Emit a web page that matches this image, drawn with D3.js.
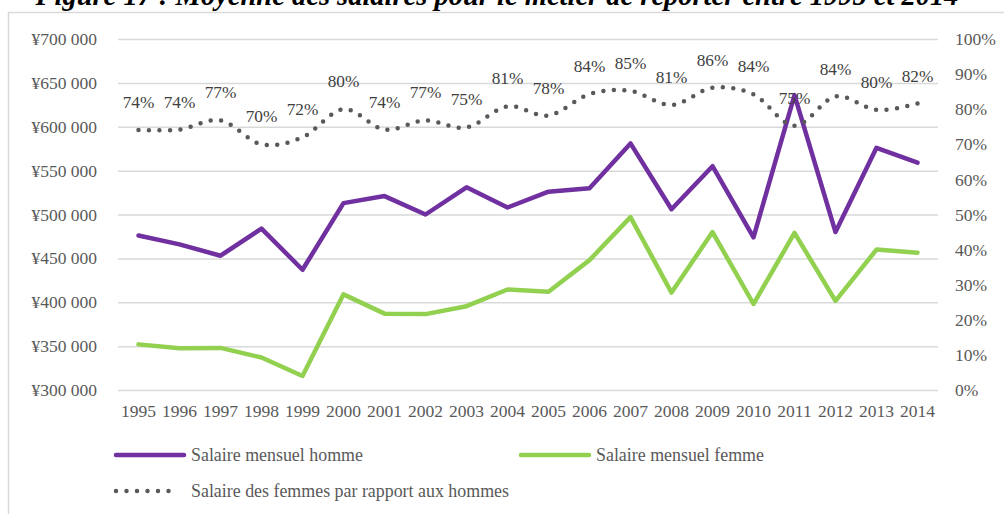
<!DOCTYPE html>
<html lang="fr">
<head>
    <meta charset="UTF-8">
    <title>Moyenne des salaires - reporter</title>
    <style>
        body {
            margin: 0;
            background: #fff;
        }
        svg {
            display: block;
        }
        svg text {
            font-family: "Liberation Serif", "DejaVu Serif", serif;
        }
        .axis text {
            fill: #595959;
            font-size: 17.5px;
        }
        .axis .domain {
            display: none;
        }
        .grid line {
            stroke: #d9d9d9;
            stroke-width: 1.5;
        }
        .grid .domain {
            display: none;
        }
        .label {
            fill: #404040;
            font-size: 17.3px;
            text-anchor: middle;
        }
        .legend text {
            fill: #595959;
            font-size: 17.9px;
        }
    </style>
    <script src="https://d3js.org/d3.v7.min.js"></script>
</head>
<body>
    <svg id="chart" width="1004" height="514"></svg>
    <script>
        const years = ["1995", "1996", "1997", "1998", "1999", "2000", "2001", "2002", "2003", "2004",
                       "2005", "2006", "2007", "2008", "2009", "2010", "2011", "2012", "2013", "2014"];
        const maleSalary = [476000, 466000, 453000, 484000, 437000, 513000, 521000, 500000, 531000, 508000,
                            526000, 530000, 581000, 506000, 555000, 474000, 636000, 480000, 576000, 559000];
        const femaleSalary = [352000, 347500, 348000, 337000, 316000, 409000, 387000, 386500, 395500, 414500,
                              412000, 448000, 497000, 411000, 480000, 398000, 479000, 401500, 460000, 456500];
        const ratio = [0.741, 0.742, 0.768, 0.70, 0.72, 0.80, 0.742, 0.768, 0.748, 0.808,
                       0.782, 0.843, 0.852, 0.812, 0.861, 0.842, 0.753, 0.836, 0.798, 0.816];
        const seriesNames = ["Salaire mensuel homme", "Salaire mensuel femme", "Salaire des femmes par rapport aux hommes"];
        const title = "Figure 17 : Moyenne des salaires pour le métier de reporter entre 1995 et 2014";

        const colors = { male: "#7030a0", female: "#92d050", ratio: "#595959" };

        const svg = d3.select("#chart");
        const margin = { left: 118, right: 938, top: 39, bottom: 390 };

        // cadre du graphique
        svg.append("path")
            .attr("d", `M8.5,520 V12.5 H1010`)
            .attr("fill", "none")
            .attr("stroke", "#d9d9d9")
            .attr("stroke-width", 1.5);

        const titleText = svg.append("text")
            .attr("x", 497)
            .attr("y", 5)
            .attr("text-anchor", "middle")
            .style("font-size", "24px")
            .style("font-weight", "bold")
            .style("font-style", "italic")
            .attr("fill", "#000")
            .text(title);
        // le titre occupe ~923px dans l'original
        const tw = titleText.node().getComputedTextLength();
        titleText.style("font-size", (24 * 923 / tw).toFixed(2) + "px");

        const x = d3.scaleBand()
            .domain(years)
            .range([margin.left, margin.right]);
        const cx = d => x(d) + x.bandwidth() / 2;

        const y = d3.scaleLinear()
            .domain([300000, 700000])
            .range([margin.bottom, margin.top]);

        const yR = d3.scaleLinear()
            .domain([0, 1])
            .range([margin.bottom, margin.top]);

        const yen = d3.formatLocale({ decimal: ",", thousands: " ", grouping: [3], currency: ["¥", ""] }).format("$,");

        svg.append("g")
            .attr("class", "grid")
            .attr("transform", `translate(${margin.left},0)`)
            .call(d3.axisLeft(y).ticks(8).tickSize(-(margin.right - margin.left)).tickFormat(""));

        svg.append("g")
            .attr("class", "axis")
            .attr("transform", `translate(${margin.left},0)`)
            .call(d3.axisLeft(y).ticks(8).tickSize(0).tickPadding(21).tickFormat(yen));

        svg.append("g")
            .attr("class", "axis")
            .attr("transform", `translate(${margin.right},0)`)
            .call(d3.axisRight(yR).ticks(10).tickSize(0).tickPadding(17).tickFormat(d3.format(".0%")));

        svg.append("g")
            .attr("class", "axis")
            .attr("transform", `translate(0,${margin.bottom})`)
            .call(d3.axisBottom(x).tickSize(0).tickPadding(15));

        const salaryLine = d3.line()
            .x((d, i) => cx(years[i]))
            .y(d => y(d));

        svg.append("path")
            .datum(femaleSalary)
            .attr("fill", "none")
            .attr("stroke", colors.female)
            .attr("stroke-width", 4.5)
            .attr("stroke-linejoin", "round")
            .attr("stroke-linecap", "round")
            .attr("d", salaryLine);

        svg.append("path")
            .datum(maleSalary)
            .attr("fill", "none")
            .attr("stroke", colors.male)
            .attr("stroke-width", 4.5)
            .attr("stroke-linejoin", "round")
            .attr("stroke-linecap", "round")
            .attr("d", salaryLine);

        const ratioLine = d3.line()
            .x((d, i) => cx(years[i]))
            .y(d => yR(d))
            .curve(d3.curveCardinal.tension(0));

        svg.append("path")
            .datum(ratio)
            .attr("fill", "none")
            .attr("stroke", colors.ratio)
            .attr("stroke-width", 4.5)
            .attr("stroke-linecap", "round")
            .attr("stroke-dasharray", "0 10.5")
            .attr("d", ratioLine);

        svg.append("g")
            .selectAll("text")
            .data(ratio)
            .join("text")
            .attr("class", "label")
            .attr("x", (d, i) => cx(years[i]))
            .attr("y", d => yR(d) - 22)
            .text(d3.format(".0%"));

        // légende
        const legend = svg.append("g").attr("class", "legend");
        const legendItems = [
            { name: seriesNames[0], x: 116, y: 455, len: 68, color: colors.male, dash: null },
            { name: seriesNames[1], x: 521, y: 455, len: 68, color: colors.female, dash: null },
            { name: seriesNames[2], x: 116, y: 491, len: 63, color: colors.ratio, dash: "0 10.5" }
        ];
        legendItems.forEach(it => {
            legend.append("line")
                .attr("x1", it.x).attr("x2", it.x + it.len)
                .attr("y1", it.y).attr("y2", it.y)
                .attr("stroke", it.color)
                .attr("stroke-width", 4.5)
                .attr("stroke-linecap", "round")
                .attr("stroke-dasharray", it.dash);
            legend.append("text")
                .attr("x", it.x + 75)
                .attr("y", it.y + 6)
                .text(it.name);
        });
    </script>
</body>
</html>
